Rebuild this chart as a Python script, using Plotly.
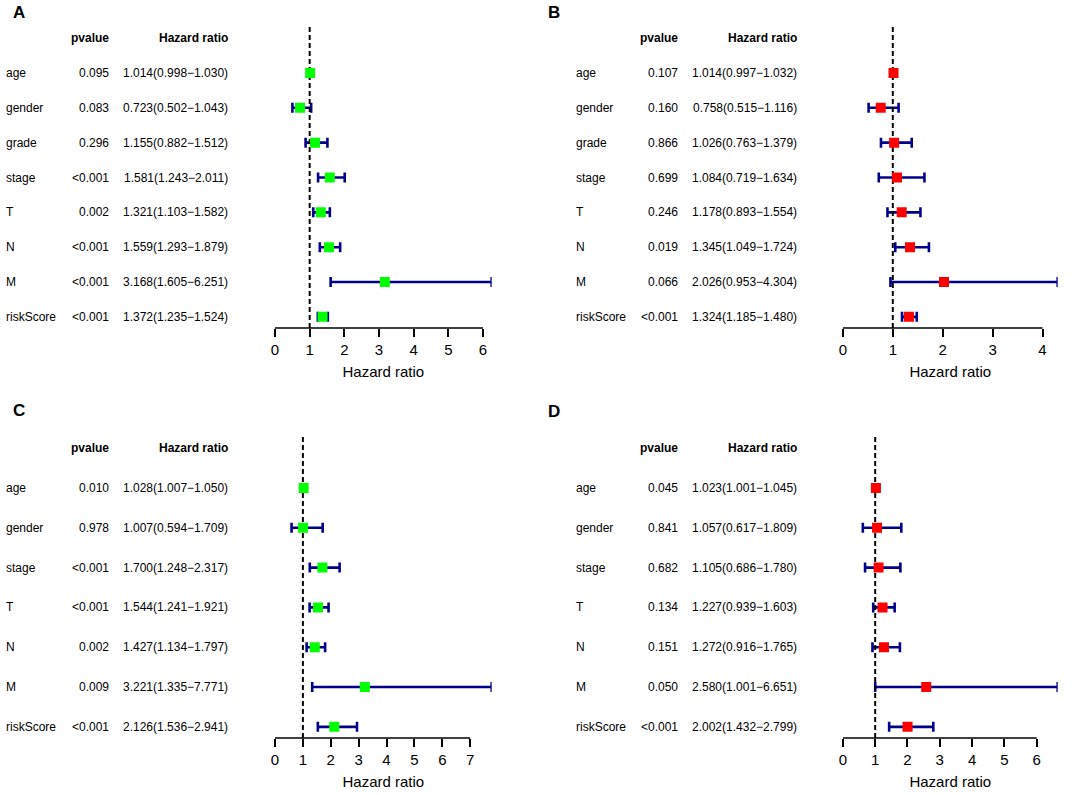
import plotly.graph_objects as go

# panel A: TCGA univariate
a_vars = ["age", "gender", "grade", "stage", "T", "N", "M", "riskScore"]
a_p = ["0.095", "0.083", "0.296", "<0.001", "0.002", "<0.001", "<0.001", "<0.001"]
a_hr = [1.014, 0.723, 1.155, 1.581, 1.321, 1.559, 3.168, 1.372]
a_low = [0.998, 0.502, 0.882, 1.243, 1.103, 1.293, 1.605, 1.235]
a_high = [1.030, 1.043, 1.512, 2.011, 1.582, 1.879, 6.251, 1.524]

# panel B: TCGA multivariate
b_vars = ["age", "gender", "grade", "stage", "T", "N", "M", "riskScore"]
b_p = ["0.107", "0.160", "0.866", "0.699", "0.246", "0.019", "0.066", "<0.001"]
b_hr = [1.014, 0.758, 1.026, 1.084, 1.178, 1.345, 2.026, 1.324]
b_low = [0.997, 0.515, 0.763, 0.719, 0.893, 1.049, 0.953, 1.185]
b_high = [1.032, 1.116, 1.379, 1.634, 1.554, 1.724, 4.304, 1.480]

# panel C
c_vars = ["age", "gender", "stage", "T", "N", "M", "riskScore"]
c_p = ["0.010", "0.978", "<0.001", "<0.001", "0.002", "0.009", "<0.001"]
c_hr = [1.028, 1.007, 1.700, 1.544, 1.427, 3.221, 2.126]
c_low = [1.007, 0.594, 1.248, 1.241, 1.134, 1.335, 1.536]
c_high = [1.050, 1.709, 2.317, 1.921, 1.797, 7.771, 2.941]

# panel D
d_vars = ["age", "gender", "stage", "T", "N", "M", "riskScore"]
d_p = ["0.045", "0.841", "0.682", "0.134", "0.151", "0.050", "<0.001"]
d_hr = [1.023, 1.057, 1.105, 1.227, 1.272, 2.580, 2.002]
d_low = [1.001, 0.617, 0.686, 0.939, 0.916, 1.001, 1.432]
d_high = [1.045, 1.809, 1.780, 1.603, 1.765, 6.651, 2.799]

W, H = 1085, 795
FONT = "Liberation Sans, Arial, Helvetica, sans-serif"

panels = [
    # letter, vars, p, hr, low, high, box colour, plot x px, y px (top, bottom), text x px, letter pos
    ("A", a_vars, a_p, a_hr, a_low, a_high, "#00FF00", (272, 489.5), (27, 328), (0, 107, 227), (15, 13)),
    ("B", b_vars, b_p, b_hr, b_low, b_high, "#FF0000", (842, 1057.6), (27, 328), (572, 679, 798), (552, 13)),
    ("C", c_vars, c_p, c_hr, c_low, c_high, "#00FF00", (272, 489.5), (437, 738), (0, 107, 227), (15, 410)),
    ("D", d_vars, d_p, d_hr, d_low, d_high, "#FF0000", (842, 1057.6), (437, 738), (572, 679, 798), (552, 411)),
]

fig = go.Figure()
annotations = []
shapes = []

for i, (letter, vars_, pv, hr, lo, hi, col, xpx, ypx, tx, lpos) in enumerate(panels):
    k = "" if i == 0 else str(i + 1)
    xa, ya = "x" + k, "y" + k
    n = len(vars_)
    ypos = list(range(n, 0, -1))
    ymin, ymax = 1 - 0.04 * n, n + 1 + 0.04 * n
    xmax = max(max(lo), max(hi))

    # confidence intervals
    fig.add_trace(go.Scatter(
        x=hr, y=ypos, mode="markers", xaxis=xa, yaxis=ya,
        marker=dict(size=1, color="rgba(0,0,0,0)"),
        error_x=dict(type="data", symmetric=False,
                     array=[h - m for h, m in zip(hi, hr)],
                     arrayminus=[m - l for m, l in zip(hr, lo)],
                     color="#00008B", thickness=2.6, width=5),
        showlegend=False, hoverinfo="skip"))
    # reference line at HR = 1
    fig.add_trace(go.Scatter(
        x=[1, 1], y=[ymin, ymax], mode="lines", xaxis=xa, yaxis=ya,
        line=dict(color="black", width=2, dash="5px,3px"),
        showlegend=False, hoverinfo="skip"))
    # hazard ratio boxes
    fig.add_trace(go.Scatter(
        x=hr, y=ypos, mode="markers", xaxis=xa, yaxis=ya,
        marker=dict(symbol="square", size=10, color=col),
        showlegend=False))

    last_tick = int(xmax)
    fig.layout[("xaxis" + k)] = dict(
        domain=[xpx[0] / W, xpx[1] / W], range=[0, xmax], anchor=ya,
        tickmode="array", tickvals=list(range(0, last_tick + 1)),
        ticks="outside", ticklen=8, tickwidth=1.5, tickcolor="black",
        showline=False, showgrid=False, zeroline=False,
        tickfont=dict(family=FONT, size=15, color="black"),
        title=dict(text="Hazard ratio", standoff=9,
                   font=dict(family=FONT, size=15, color="black")))
    fig.layout[("yaxis" + k)] = dict(
        domain=[1 - ypx[1] / H, 1 - ypx[0] / H], range=[ymin, ymax],
        anchor=xa, visible=False, showgrid=False, zeroline=False)

    # axis line from 0 to the last tick, as in base R
    shapes.append(dict(type="line", xref=xa, yref=ya + " domain",
                       x0=0, x1=last_tick, y0=0, y1=0,
                       line=dict(color="black", width=1.5)))

    tf = dict(family=FONT, size=12, color="black")
    bf = dict(family=FONT, size=12, color="black", weight="bold")
    annotations.append(dict(text="pvalue", x=tx[1] / W, y=n + 1, xref="paper", yref=ya,
                            xanchor="right", yanchor="middle", showarrow=False, font=bf))
    annotations.append(dict(text="Hazard ratio", x=tx[2] / W, y=n + 1, xref="paper", yref=ya,
                            xanchor="right", yanchor="middle", showarrow=False, font=bf))
    for j in range(n):
        annotations.append(dict(text=vars_[j], x=tx[0] / W, y=ypos[j], xref="paper", yref=ya,
                                xanchor="left", yanchor="middle", showarrow=False, font=tf))
        annotations.append(dict(text=pv[j], x=tx[1] / W, y=ypos[j], xref="paper", yref=ya,
                                xanchor="right", yanchor="middle", showarrow=False, font=tf))
        hr_txt = f"{hr[j]:.3f}({lo[j]:.3f}\u2212{hi[j]:.3f})"
        annotations.append(dict(text=hr_txt, x=tx[2] / W, y=ypos[j], xref="paper", yref=ya,
                                xanchor="right", yanchor="middle", showarrow=False, font=tf))
    annotations.append(dict(text=f"<b>{letter}</b>", x=lpos[0] / W, y=1 - lpos[1] / H,
                            xref="paper", yref="paper", xanchor="center", yanchor="middle",
                            showarrow=False, font=dict(family=FONT, size=17, color="black")))

fig.update_layout(
    width=W, height=H, margin=dict(l=0, r=0, t=0, b=0),
    paper_bgcolor="white", plot_bgcolor="white",
    annotations=annotations, shapes=shapes,
    font=dict(family=FONT, color="black"),
)

# drop the default page margin so the figure sits at the window's corner
fig.write_html("out.html", config={"displayModeBar": False},
               post_script="document.body.style.margin='0';document.body.style.overflow='hidden';")
